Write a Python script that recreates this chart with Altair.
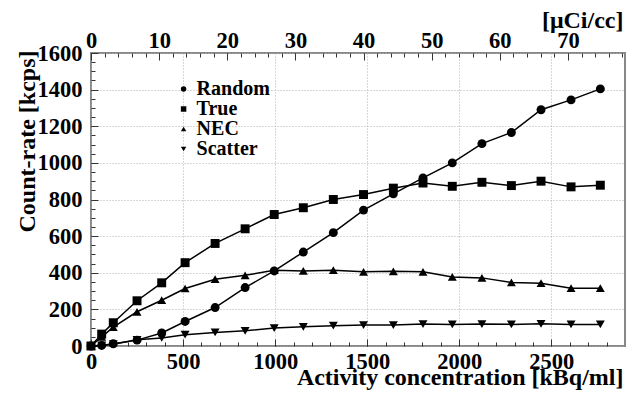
import altair as alt
import pandas as pd

# ---- data ----
kbq = [0, 58, 121, 250, 384, 511, 674, 837, 995, 1153, 1316, 1480, 1642,
       1803, 1962, 2123, 2283, 2444, 2607, 2766]
random_rate = [0, 3, 12, 32, 71, 134, 210, 319, 410, 513, 619, 742, 831,
               918, 1000, 1105, 1166, 1290, 1344, 1404]
true_rate = [0, 65, 127, 247, 345, 455, 560, 640, 718, 755, 800, 827, 862,
             890, 872, 894, 876, 900, 869, 878]
nec_rate = [0, 50, 103, 187, 250, 314, 365, 386, 414, 410, 414, 405, 408,
            405, 377, 372, 347, 343, 316, 316]
scatter_rate = [0, 4, 10, 34, 44, 62, 74, 83, 98, 105, 111, 114, 114,
                120, 118, 120, 118, 121, 118, 118]

series_names = ["Random", "True", "NEC", "Scatter"]
series_shapes = ["circle", "square", "triangle-up", "triangle-down"]

x_major = [0, 500, 1000, 1500, 2000, 2500]
x_minor = list(range(0, 2900, 100))
y_major = [0, 200, 400, 600, 800, 1000, 1200, 1400, 1600]
y_minor = list(range(0, 1601, 50))
top_major = [0, 10, 20, 30, 40, 50, 60, 70]
top_minor = list(range(0, 79, 2))

KBQ_PER_UCI = 37.0
XMAX = 2900
YMAX = 1600
UMAX = XMAX / KBQ_PER_UCI

rows = []
for name, vals in zip(series_names, [random_rate, true_rate, nec_rate, scatter_rate]):
    for xv, yv in zip(kbq, vals):
        rows.append({"series": name, "x": xv, "y": yv, "uci": xv / KBQ_PER_UCI})
df = pd.DataFrame(rows)

FONT = "'Liberation Serif', 'Times New Roman', Times, serif"
LBL = 22.5
TTL = 24
GRID = "#b0b0b0"
TICK = "#333333"

xs = alt.Scale(domain=[0, XMAX], nice=False, zero=False)
ys = alt.Scale(domain=[0, YMAX], nice=False)
us = alt.Scale(domain=[0, UMAX], nice=False, zero=False)

common = dict(labelFont=FONT, labelFontSize=LBL, labelFontWeight="bold",
              labelColor="black", labelFlush=False, labelOverlap=False,
              titleFont=FONT, titleFontSize=TTL, titleFontWeight="bold",
              titleColor="black", domain=False, tickColor=TICK, tickWidth=1)

base = alt.Chart(df)

x_main_axis = alt.Axis(orient="bottom", values=x_major, format="d",
                       grid=True, gridColor=GRID, gridDash=[1, 2], gridWidth=1,
                       tickSize=7, offset=-7, labelPadding=4, labelBaseline="top",
                       title="Activity concentration [kBq/ml]",
                       titleX=532, titleY=45, titleAlign="right",
                       titleBaseline="alphabetic", titleAngle=0, **common)
y_main_axis = alt.Axis(orient="left", values=y_major, format="d",
                       grid=True, gridColor=GRID, gridDash=[1, 2], gridWidth=1,
                       tickSize=7, offset=-7, labelPadding=9,
                       labelBaseline="middle",
                       title="Count-rate [kcps]",
                       titleX=-64, titleY=-3, titleAlign="right",
                       titleBaseline="alphabetic", titleAngle=270, **common)

lines = base.mark_line(color="black", strokeWidth=1.5).encode(
    x=alt.X("x:Q", scale=xs, axis=x_main_axis),
    y=alt.Y("y:Q", scale=ys, axis=y_main_axis),
    detail="series:N",
)

points = base.mark_point(filled=True, color="black", opacity=1, size=80).encode(
    x=alt.X("x:Q", scale=xs, axis=None),
    y=alt.Y("y:Q", scale=ys, axis=None),
    shape=alt.Shape("series:N",
                    scale=alt.Scale(domain=series_names, range=series_shapes),
                    legend=alt.Legend(orient="none", legendX=82.6, legendY=26,
                                      title=None, labelFont=FONT, labelFontSize=20,
                                      labelFontWeight="bold", labelColor="black",
                                      symbolSize=30, symbolFillColor="black",
                                      symbolStrokeColor="black", symbolStrokeWidth=0,
                                      labelOffset=3, rowPadding=-1.7,
                                      padding=0)),
)

minor_x = alt.Chart(pd.DataFrame({"v": x_minor})).mark_point(opacity=0).encode(
    x=alt.X("v:Q", scale=xs,
            axis=alt.Axis(orient="bottom", values=x_minor, labels=False, grid=False,
                          tickSize=4, offset=-4, title=None, domain=False,
                          tickColor=TICK, tickWidth=1)),
)

minor_y = alt.Chart(pd.DataFrame({"v": y_minor})).mark_point(opacity=0).encode(
    y=alt.Y("v:Q", scale=ys,
            axis=alt.Axis(orient="left", values=y_minor, labels=False, grid=False,
                          tickSize=4, offset=-4, title=None, domain=False,
                          tickColor=TICK, tickWidth=1)),
)

top_major_layer = alt.Chart(pd.DataFrame({"v": top_major})).mark_point(opacity=0).encode(
    x=alt.X("v:Q", scale=us,
            axis=alt.Axis(orient="top", values=top_major, format="d", grid=False,
                          tickSize=7, offset=-7, labelPadding=6,
                          labelBaseline="alphabetic",
                          title="[μCi/cc]", titleX=532, titleY=-33,
                          titleAlign="right", titleBaseline="alphabetic",
                          titleAngle=0, **common)),
)

top_minor_layer = alt.Chart(pd.DataFrame({"v": top_minor})).mark_point(opacity=0).encode(
    x=alt.X("v:Q", scale=us,
            axis=alt.Axis(orient="top", values=top_minor, labels=False, grid=False,
                          tickSize=4, offset=-4, title=None, domain=False,
                          tickColor=TICK, tickWidth=1)),
)

chart = alt.layer(
    lines, points, minor_x, minor_y, top_major_layer, top_minor_layer
).resolve_scale(
    x="independent", y="independent"
).resolve_axis(
    x="independent", y="independent"
).properties(
    width=534, height=293,
    autosize=alt.AutoSizeParams(type="none"),
    padding={"left": 83, "top": 45, "right": 1, "bottom": 45},
    background="white",
).configure_view(
    stroke="#888888", strokeWidth=2
)

chart.save("out.html", embed_options={"renderer": "svg", "actions": False})
